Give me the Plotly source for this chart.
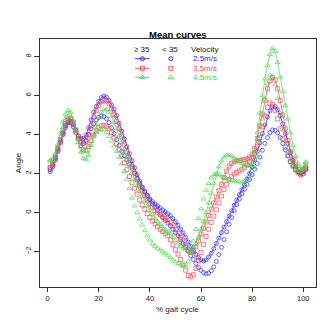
import plotly.graph_objects as go

# % gait cycle, one point per percent
pct = list(range(1, 102))

# >= 35 group, velocity 2.5 / 3.5 / 4.5 m/s
old_25 = [2.10, 2.35, 2.70, 3.15, 3.60, 4.00, 4.35, 4.62, 4.68, 4.50,
          4.22, 3.95, 3.82, 3.80, 3.98, 4.35, 4.75, 5.15, 5.45, 5.70,
          5.90, 5.98, 5.92, 5.75, 5.52, 5.30, 4.98, 4.58, 4.18, 3.78,
          3.38, 3.02, 2.66, 2.30, 1.95, 1.62, 1.32, 1.08, 0.88, 0.70,
          0.56, 0.45, 0.35, 0.24, 0.14, 0.04, -0.06, -0.16, -0.30, -0.46,
          -0.64, -0.84, -1.04, -1.26, -1.50, -1.72, -1.94, -2.14, -2.30, -2.42,
          -2.48, -2.42, -2.28, -2.08, -1.84, -1.58, -1.30, -1.02, -0.74, -0.46,
          -0.18, 0.10, 0.38, 0.64, 0.92, 1.18, 1.44, 1.72, 2.00, 2.34,
          2.72, 3.14, 3.58, 4.05, 4.50, 4.90, 5.22, 5.42, 5.44, 5.28,
          4.98, 4.55, 4.05, 3.55, 3.08, 2.68, 2.36, 2.10, 1.92, 1.98,
          2.20]
old_35 = [2.30, 2.50, 2.85, 3.30, 3.75, 4.20, 4.55, 4.80, 4.82, 4.60,
          4.25, 3.90, 3.65, 3.55, 3.65, 4.00, 4.45, 4.90, 5.25, 5.50,
          5.68, 5.75, 5.72, 5.58, 5.32, 5.02, 4.68, 4.30, 3.92, 3.52,
          3.12, 2.75, 2.38, 2.02, 1.70, 1.40, 1.12, 0.88, 0.65, 0.45,
          0.28, 0.12, 0.00, -0.10, -0.20, -0.30, -0.40, -0.52, -0.68, -0.86,
          -1.06, -1.28, -1.50, -1.72, -1.92, -2.04, -1.98, -1.76, -1.45, -1.10,
          -0.80, -0.48, -0.15, 0.18, 0.50, 0.80, 1.12, 1.45, 1.80, 2.12,
          2.38, 2.52, 2.60, 2.65, 2.68, 2.70, 2.72, 2.76, 2.85, 3.00,
          3.30, 3.80, 4.45, 5.05, 5.75, 6.35, 6.75, 6.92, 6.80, 6.35,
          5.75, 5.00, 4.30, 3.70, 3.15, 2.75, 2.45, 2.22, 2.05, 2.10,
          2.35]
old_45 = [2.65, 2.70, 3.00, 3.50, 4.10, 4.65, 5.05, 5.25, 5.15, 4.75,
          4.20, 3.60, 3.10, 2.78, 2.72, 2.95, 3.45, 4.00, 4.50, 4.90,
          5.15, 5.28, 5.28, 5.15, 4.92, 4.62, 4.30, 3.95, 3.60, 3.25,
          2.85, 2.45, 2.05, 1.70, 1.40, 1.12, 0.85, 0.60, 0.35, 0.12,
          -0.10, -0.30, -0.45, -0.60, -0.72, -0.85, -0.95, -1.08, -1.25, -1.42,
          -1.60, -1.72, -1.82, -1.90, -1.95, -1.95, -1.85, -1.60, -1.25, -0.85,
          -0.45, 0.00, 0.50, 1.00, 1.50, 1.95, 2.35, 2.65, 2.85, 2.95,
          2.95, 2.90, 2.82, 2.72, 2.62, 2.52, 2.45, 2.40, 2.42, 2.55,
          3.10, 4.10, 5.10, 6.00, 6.85, 7.55, 8.10, 8.42, 8.25, 7.70,
          6.95, 6.20, 5.50, 4.80, 4.10, 3.45, 2.90, 2.50, 2.28, 2.32,
          2.60]

# < 35 group
young_25 = [2.20, 2.45, 2.80, 3.25, 3.70, 4.10, 4.45, 4.65, 4.60, 4.40,
            4.10, 3.80, 3.60, 3.55, 3.70, 4.00, 4.30, 4.55, 4.75, 4.88,
            4.95, 4.92, 4.82, 4.62, 4.35, 4.05, 3.75, 3.45, 3.15, 2.92,
            2.70, 2.48, 2.28, 2.02, 1.76, 1.50, 1.28, 1.08, 0.88, 0.66,
            0.45, 0.28, 0.12, -0.08, -0.25, -0.40, -0.54, -0.68, -0.85, -1.02,
            -1.18, -1.38, -1.58, -1.78, -1.98, -2.20, -2.40, -2.60, -2.80, -2.96,
            -3.08, -3.14, -3.10, -2.98, -2.78, -2.50, -2.15, -1.78, -1.38, -0.98,
            -0.60, -0.25, 0.10, 0.42, 0.70, 0.95, 1.20, 1.45, 1.70, 1.95,
            2.22, 2.52, 2.85, 3.20, 3.55, 3.85, 4.10, 4.24, 4.22, 4.08,
            3.85, 3.55, 3.22, 2.90, 2.62, 2.40, 2.22, 2.10, 2.05, 2.15,
            2.30]
young_35 = [2.30, 2.45, 2.75, 3.15, 3.60, 4.05, 4.45, 4.72, 4.75, 4.55,
            4.20, 3.80, 3.45, 3.22, 3.20, 3.40, 3.70, 3.98, 4.20, 4.35,
            4.45, 4.48, 4.42, 4.32, 4.10, 3.82, 3.52, 3.22, 2.90, 2.55,
            2.20, 1.85, 1.55, 1.25, 0.95, 0.65, 0.40, 0.18, -0.05, -0.25,
            -0.42, -0.58, -0.72, -0.85, -0.97, -1.08, -1.18, -1.40, -1.65, -1.90,
            -2.12, -2.40, -2.68, -2.95, -3.22, -3.28, -3.18, -2.85, -2.45, -2.05,
            -1.62, -1.22, -0.85, -0.50, -0.18, 0.15, 0.50, 0.85, 1.18, 1.45,
            1.68, 1.85, 1.98, 2.06, 2.14, 2.22, 2.32, 2.45, 2.60, 2.80,
            3.05, 3.40, 3.85, 4.40, 4.95, 5.40, 5.62, 5.55, 5.25, 4.80,
            4.30, 3.80, 3.35, 2.95, 2.62, 2.38, 2.18, 2.05, 2.00, 2.08,
            2.25]
young_45 = [2.70, 2.75, 3.00, 3.40, 3.90, 4.35, 4.72, 4.95, 4.90, 4.62,
            4.22, 3.78, 3.38, 3.18, 3.15, 3.35, 3.65, 3.90, 4.10, 4.20,
            4.25, 4.25, 4.10, 3.90, 3.68, 3.42, 3.15, 2.85, 2.50, 2.12,
            1.72, 1.25, 0.75, 0.35, 0.00, -0.32, -0.62, -0.92, -1.18, -1.40,
            -1.58, -1.72, -1.82, -1.90, -1.98, -2.08, -2.18, -2.30, -2.42, -2.52,
            -2.60, -2.67, -2.72, -2.70, -2.50, -2.05, -1.45, -0.85, -0.30, 0.20,
            0.70, 1.15, 1.50, 1.78, 1.95, 2.00, 1.95, 1.88, 1.80, 1.75,
            1.70, 1.66, 1.62, 1.60, 1.58, 1.58, 1.60, 1.65, 1.75, 1.95,
            2.30, 2.90, 3.80, 4.80, 5.80, 6.60, 7.05, 7.00, 6.55, 5.85,
            5.10, 4.35, 3.70, 3.15, 2.72, 2.42, 2.22, 2.12, 2.10, 2.25,
            2.55]

velocities = ["2.5m/s", "3.5m/s", "4.5m/s"]
colors = ["rgb(30,30,255)", "rgb(235,70,80)", "rgb(70,215,70)"]
symbols = ["circle-open", "square-open", "triangle-up-open"]
sizes = [4, 4, 4.5]
old = [old_25, old_35, old_45]
young = [young_25, young_35, young_45]

FONT = "Liberation Sans, Arial, sans-serif"

fig = go.Figure()
for i in range(3):
    fig.add_trace(go.Scatter(
        x=pct, y=old[i], mode="lines+markers",
        line=dict(color=colors[i], width=0.8),
        marker=dict(symbol=symbols[i], size=sizes[i], color=colors[i],
                    line=dict(width=0.8, color=colors[i])),
        opacity=0.85, showlegend=False))
    fig.add_trace(go.Scatter(
        x=pct, y=young[i], mode="markers",
        marker=dict(symbol=symbols[i], size=sizes[i], color=colors[i],
                    line=dict(width=0.8, color=colors[i])),
        opacity=0.85, showlegend=False))

# hand made legend in three columns (overlay axes, 0..1 = plot area)
rows_y = [0.9206, 0.8819, 0.8456]
for i in range(3):
    fig.add_trace(go.Scatter(
        x=[0.3446, 0.3965], y=[rows_y[i]] * 2, mode="lines",
        line=dict(color=colors[i], width=0.9),
        xaxis="x2", yaxis="y2", showlegend=False, hoverinfo="skip"))
    fig.add_trace(go.Scatter(
        x=[0.371, 0.474], y=[rows_y[i]] * 2, mode="markers",
        marker=dict(symbol=symbols[i], size=sizes[i], color=colors[i],
                    line=dict(width=0.9, color=colors[i])),
        xaxis="x2", yaxis="y2", showlegend=False, hoverinfo="skip"))

annots = [
    dict(x=0.5, y=1.019, text="<b>Mean curves</b>", font=dict(size=9.5, color="black")),
    dict(x=0.497, y=-0.09, text="% gait cycle", font=dict(size=8, color="#222")),
    dict(x=-0.079, y=0.5, text="Angle", textangle=-90, font=dict(size=8, color="#222")),
    dict(x=0.371, y=0.958, text="\u2265 35", font=dict(size=8, color="#222")),
    dict(x=0.4715, y=0.958, text="< 35", font=dict(size=8, color="#222")),
    dict(x=0.5415, y=0.958, text="Velocity", xanchor="left", font=dict(size=8, color="#222")),
]
for i in range(3):
    annots.append(dict(x=0.5466, y=rows_y[i], text=velocities[i], xanchor="left",
                       font=dict(size=8, color=colors[i])))
for a in annots:
    a.setdefault("xanchor", "center")
    a.update(xref="paper", yref="paper", yanchor="middle", showarrow=False)
    a["font"]["family"] = FONT

# the page body adds an 8px offset, so the figure is a bit smaller
fig.update_layout(
    width=328, height=328,
    margin=dict(l=32, r=20, t=31, b=49),
    paper_bgcolor="white", plot_bgcolor="white",
    font=dict(family=FONT, size=8, color="#222"),
    annotations=annots,
    xaxis=dict(range=[-3, 105], tickvals=[0, 20, 40, 60, 80, 100],
               ticks="outside", ticklen=4, tickcolor="#333", automargin=False,
               showline=True, mirror=True, linecolor="#333", linewidth=1,
               showgrid=False, zeroline=False, tickfont=dict(size=7.5)),
    yaxis=dict(range=[-3.81, 8.9], tickvals=[-2, 0, 2, 4, 6, 8], tickangle=-90,
               ticks="outside", ticklen=5, tickcolor="#333", automargin=False,
               showline=True, mirror=True, linecolor="#333", linewidth=1,
               showgrid=False, zeroline=False, tickfont=dict(size=7.5)),
    xaxis2=dict(overlaying="x", anchor="y2", range=[0, 1], visible=False),
    yaxis2=dict(overlaying="y", anchor="x2", range=[0, 1], visible=False),
)

fig.write_html("out.html")
